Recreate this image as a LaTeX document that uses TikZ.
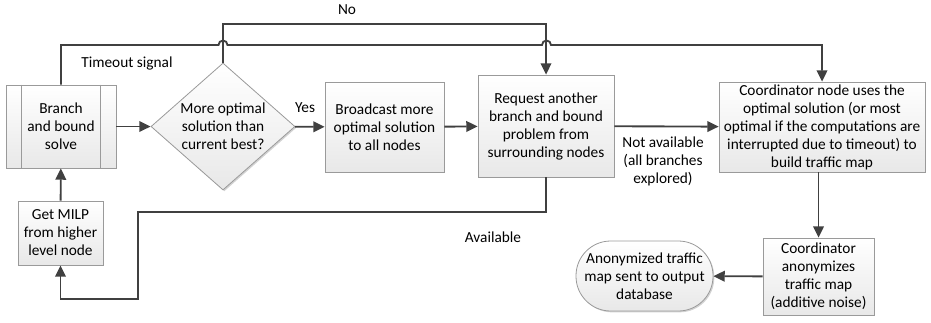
\documentclass[tikz,border=0pt]{standalone}
\usepackage{fontspec}
\setmainfont{Carlito}
\usetikzlibrary{shapes.geometric,arrows.meta,shadows}
\definecolor{linegray}{HTML}{404040}
\definecolor{boxgray}{HTML}{9A9A9A}
\begin{document}
\begin{tikzpicture}[x=0.75pt,y=-0.75pt,
  font=\fontsize{11.5}{13.5}\selectfont,
  box/.style={draw=boxgray, line width=0.6pt, top color=white, bottom color=black!9,
    drop shadow={shadow xshift=1pt, shadow yshift=-1pt, fill=black!35, opacity=.5},
    align=center, inner sep=0pt},
  arr/.style={draw=linegray, line width=1.4pt, -{Triangle[length=8.5pt,width=8pt]}},
  lbl/.style={align=center, inner sep=0pt}]
\useasboundingbox (0,0) rectangle (931,322);
\node[box, minimum width=82.5pt, minimum height=62.25pt] (bnb) at (61,126.5){Branch\\and bound\\solve};
\draw[draw=boxgray, line width=0.6pt] ([xshift=12pt]bnb.north west) -- ([xshift=12pt]bnb.south west);
\draw[draw=boxgray, line width=0.6pt] ([xshift=-12pt]bnb.north east) -- ([xshift=-12pt]bnb.south east);
\node[box, minimum width=63.75pt, minimum height=48pt] (milp) at (60.5,233){Get MILP\\from higher\\level node};
\node[box, diamond, aspect=1.13, minimum width=108pt, minimum height=95.25pt] (dec) at (223,126.5){More optimal\\solution than\\current best?};
\node[box, minimum width=89.25pt, minimum height=67.5pt] (bcast) at (384.5,127){Broadcast more\\optimal solution\\to all nodes};
\node[box, minimum width=102pt, minimum height=76.5pt] (req) at (546,126){Request another\\branch and bound\\problem from\\surrounding nodes};
\node[box, minimum width=154.5pt, minimum height=67.5pt] (coord) at (822,127){Coordinator node uses the\\optimal solution (or most\\optimal if the computations are\\interrupted due to timeout) to\\build traffic map};
\node[box, minimum width=83.25pt, minimum height=57.75pt] (anon) at (818.5,276.5){Coordinator\\anonymizes\\traffic map\\(additive noise)};
\node[box, rounded corners=26pt, minimum width=102.75pt, minimum height=52.5pt] (out) at (644.5,276){Anonymized traffic\\map sent to output\\database};

% corners of the long connectors
\coordinate (nocorner) at (223,24);
\coordinate (tocorner) at (61,45);
\coordinate (avcorner) at (138,212);
\coordinate (avlow) at (138,299);

\draw[arr] (milp) -- (bnb);
\draw[arr] (bnb) -- (dec);
\draw[arr] (dec) -- (bcast);
\draw[arr] (bcast) -- (req);
\draw[arr] (req) -- (coord);
\draw[arr] (anon |- coord.south) -- (anon);
\draw[arr] (anon) -- (out);
\draw[arr] (dec.north) -- (nocorner) -| (req.north);
\draw[arr] (bnb.north) -- (tocorner) -- (218.5,45) arc[start angle=180, end angle=360, radius=4.5]
  -- (542,45) arc[start angle=180, end angle=360, radius=4.5] -| (coord.north);
\draw[arr] (req.south) |- (avcorner) -- (avlow) -| (milp.south);

\node[lbl] (yeslbl) at (305,108){Yes};
\node[lbl] (nolbl) at (347,10){No};
\node[lbl] (tolbl) at (127,63){Timeout signal};
\node[lbl] (avlbl) at (493,237){Available};
\node[lbl] (nalbl) at (663,161){Not available\\(all branches\\explored)};
\end{tikzpicture}
\end{document}
